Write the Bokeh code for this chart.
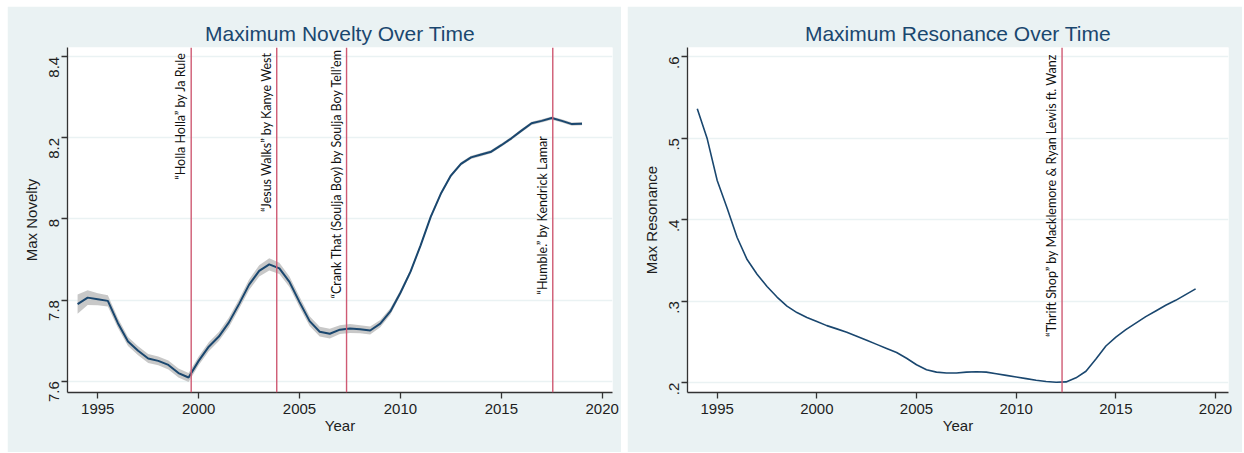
import math
from bokeh.plotting import figure
from bokeh.models import Range1d, FixedTicker, Span, Spacer, ColumnDataSource
from bokeh.layouts import row, column
from bokeh.core.properties import value
from bokeh.embed import file_html
from bokeh.resources import INLINE

# ---------------- data ----------------
years = [1994.0, 1994.5, 1995.0, 1995.5, 1996.0, 1996.5, 1997.0, 1997.5, 1998.0, 1998.5,
         1999.0, 1999.5, 2000.0, 2000.5, 2001.0, 2001.5, 2002.0, 2002.5, 2003.0, 2003.5,
         2004.0, 2004.5, 2005.0, 2005.5, 2006.0, 2006.5, 2007.0, 2007.5, 2008.0, 2008.5,
         2009.0, 2009.5, 2010.0, 2010.5, 2011.0, 2011.5, 2012.0, 2012.5, 2013.0, 2013.5,
         2014.0, 2014.5, 2015.0, 2015.5, 2016.0, 2016.5, 2017.0, 2017.5, 2018.0, 2018.5,
         2019.0]

max_novelty = [7.790, 7.806, 7.802, 7.798, 7.743, 7.698, 7.675, 7.656, 7.650, 7.640,
               7.620, 7.609, 7.650, 7.685, 7.710, 7.745, 7.790, 7.838, 7.872, 7.888,
               7.878, 7.845, 7.795, 7.748, 7.722, 7.717, 7.727, 7.730, 7.728, 7.725,
               7.742, 7.772, 7.818, 7.870, 7.935, 8.005, 8.062, 8.107, 8.136, 8.152,
               8.159, 8.166, 8.182, 8.199, 8.218, 8.236, 8.242, 8.249, 8.242, 8.234,
               8.235]

novelty_lower = [7.766, 7.788, 7.787, 7.784, 7.731, 7.687, 7.664, 7.645, 7.639, 7.629,
                 7.609, 7.598, 7.639, 7.674, 7.699, 7.733, 7.778, 7.825, 7.858, 7.873,
                 7.864, 7.832, 7.782, 7.736, 7.710, 7.705, 7.716, 7.719, 7.718, 7.715,
                 7.733, 7.764, 7.812, 7.865, 7.931, 8.001, 8.058, 8.103, 8.132, 8.148,
                 8.155, 8.162, 8.178, 8.195, 8.214, 8.232, 8.238, 8.245, 8.238, 8.230,
                 8.231]

novelty_upper = [7.814, 7.824, 7.817, 7.812, 7.755, 7.709, 7.686, 7.667, 7.661, 7.651,
                 7.631, 7.620, 7.661, 7.696, 7.721, 7.757, 7.802, 7.851, 7.886, 7.903,
                 7.892, 7.858, 7.808, 7.760, 7.734, 7.729, 7.738, 7.741, 7.738, 7.735,
                 7.751, 7.780, 7.824, 7.875, 7.939, 8.009, 8.066, 8.111, 8.140, 8.156,
                 8.163, 8.170, 8.186, 8.203, 8.222, 8.240, 8.246, 8.253, 8.246, 8.238,
                 8.239]

max_resonance = [0.536, 0.499, 0.448, 0.414, 0.378, 0.351, 0.333, 0.318, 0.305, 0.294,
                 0.286, 0.280, 0.275, 0.270, 0.266, 0.262, 0.257, 0.252, 0.247, 0.242,
                 0.237, 0.230, 0.222, 0.216, 0.213, 0.212, 0.212, 0.213, 0.2135, 0.213,
                 0.211, 0.209, 0.207, 0.205, 0.203, 0.2015, 0.2005, 0.201, 0.206, 0.214,
                 0.229, 0.245, 0.256, 0.265, 0.273, 0.281, 0.288, 0.295, 0.301, 0.308,
                 0.315]

novelty_songs = ['\u201cHolla Holla\u201d by Ja Rule',
                 '\u201cJesus Walks\u201d by Kanye West',
                 '\u201cCrank That (Soulja Boy) by Soulja Boy Tell\u2019em',
                 '\u201cHumble.\u201d by Kendrick Lamar']
novelty_song_year = [1999.63, 2003.87, 2007.33, 2017.55]
novelty_song_top = [8.411, 8.411, 8.420, 8.205]

resonance_songs = ['\u201cThrift Shop\u201d by Macklemore & Ryan Lewis ft. Wanz']
resonance_song_year = [2012.3]
resonance_song_top = [0.603]

novelty_ticks = [7.6, 7.8, 8.0, 8.2, 8.4]
novelty_tick_labels = ["7.6", "7.8", "8", "8.2", "8.4"]
resonance_ticks = [0.2, 0.3, 0.4, 0.5, 0.6]
resonance_tick_labels = [".2", ".3", ".4", ".5", ".6"]
year_ticks = [1995, 2000, 2005, 2010, 2015, 2020]

# ---------------- style ----------------
BG = "#eaf2f3"
NAVY = "#1a476f"
RED = "#cf5a73"
BAND = "#c2c2c2"
AXIS = "#333333"
FONT = "Liberation Sans"
ANN_FONT = "Lato"
FIG_H = 446


def base_fig(title, width, left, right, xr, yr, yticks, ylabels, ylabel):
    p = figure(width=width, height=FIG_H, output_backend="svg", toolbar_location=None,
               x_range=Range1d(*xr), y_range=Range1d(*yr),
               min_border_left=left, min_border_right=right, min_border_top=41,
               min_border_bottom=FIG_H - 41 - 345, title=title)
    p.border_fill_color = BG
    p.background_fill_color = "white"
    p.outline_line_color = None
    p.title.text_font = FONT
    p.title.text_font_size = "21px"
    p.title.text_font_style = "normal"
    p.title.text_color = NAVY
    p.title.align = "center"
    p.title.standoff = 5

    p.xaxis.ticker = FixedTicker(ticks=year_ticks)
    p.yaxis.ticker = FixedTicker(ticks=yticks)
    p.yaxis.major_label_overrides = {t: l for t, l in zip(yticks, ylabels)}
    p.yaxis.major_label_orientation = math.pi / 2
    p.xaxis.axis_label = "Year"
    p.yaxis.axis_label = ylabel
    for ax in (p.xaxis, p.yaxis):
        ax.axis_line_color = AXIS
        ax.axis_line_width = 1.3
        ax.major_tick_line_color = AXIS
        ax.major_tick_line_width = 1.3
        ax.major_tick_out = 6
        ax.major_tick_in = 0
        ax.minor_tick_line_color = None
        ax.major_label_text_font = FONT
        ax.major_label_text_font_size = "15px"
        ax.major_label_text_color = "#1e1e1e"
        ax.axis_label_text_font = FONT
        ax.axis_label_text_font_size = "15px"
        ax.axis_label_text_font_style = "normal"
        ax.axis_label_text_color = "#1e1e1e"
    p.xaxis.major_label_standoff = 5
    p.yaxis.major_label_standoff = 7
    p.xaxis.axis_label_standoff = 0
    p.yaxis.axis_label_standoff = 2
    p.xgrid.grid_line_color = None
    p.ygrid.grid_line_color = BG
    p.ygrid.grid_line_width = 1.5
    return p


def add_songs(p, xs, tops, texts):
    for x in xs:
        p.add_layout(Span(location=x, dimension="height", line_color=RED, line_width=1.4))
    src = ColumnDataSource(dict(x=xs, y=tops, t=texts))
    p.text(x="x", y="y", text="t", source=src, angle=math.pi / 2,
           text_align="right", text_baseline="bottom", x_offset=-3,
           text_font=value(ANN_FONT), text_font_size="12.5px", text_color="#111111")


# ---------------- left: novelty ----------------
p1 = base_fig("Maximum Novelty Over Time", 614, 60, 9, (1993.5, 2020.51), (7.572, 8.423),
              novelty_ticks, novelty_tick_labels, "Max Novelty")
p1.varea(x=years, y1=novelty_lower, y2=novelty_upper, fill_color=BAND, fill_alpha=0.9)
p1.line(x=years, y=max_novelty, line_color=NAVY, line_width=2)
add_songs(p1, novelty_song_year, novelty_song_top, novelty_songs)

# ---------------- right: resonance ----------------
p2 = base_fig("Maximum Resonance Over Time", 615, 60, 14, (1993.51, 2020.65), (0.188, 0.611),
              resonance_ticks, resonance_tick_labels, "Max Resonance")
p2.line(x=years, y=max_resonance, line_color=NAVY, line_width=1.6)
add_songs(p2, resonance_song_year, resonance_song_top, resonance_songs)

layout = column(Spacer(width=1242, height=6),
                row(Spacer(width=7, height=FIG_H), p1, Spacer(width=6, height=FIG_H), p2))
open("out.html", "w").write(file_html(layout, INLINE))
